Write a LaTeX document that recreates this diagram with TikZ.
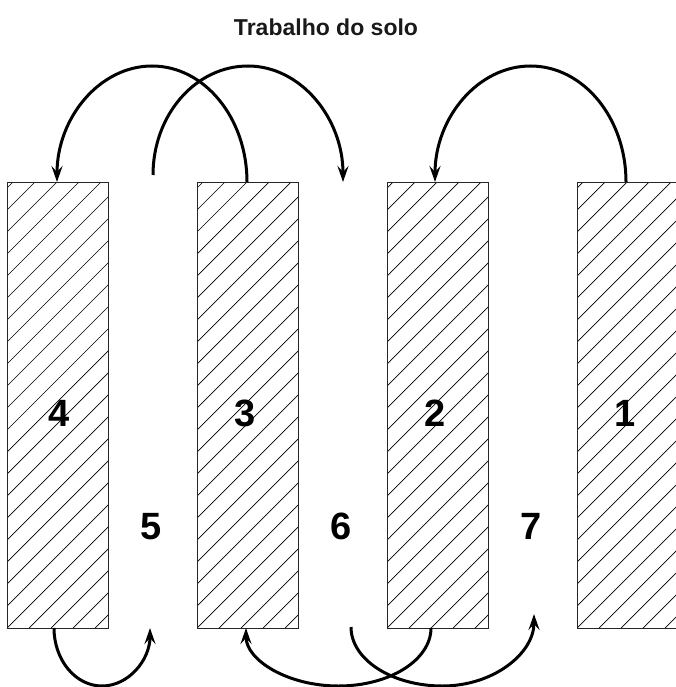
\documentclass[tikz,border=0pt]{standalone}
\usepackage{fontspec}
\setmainfont{Liberation Sans}
\usetikzlibrary{arrows.meta}
\begin{document}
\begin{tikzpicture}[x=1pt,y=-1pt,
  hatchline/.style={line width=0.7pt, black},
  wall/.style={draw=black!85, line width=1pt, minimum width=101pt, minimum height=446pt,
    inner sep=0pt, outer sep=0pt,
    path picture={
      \foreach \i in {-22,...,6} {
        \draw[hatchline] ([xshift=\i*22pt]path picture bounding box.south west) -- ++(470pt,470pt);
      }
    }},
  num/.style={font=\fontsize{38}{38}\selectfont\bfseries, anchor=base, inner sep=0pt},
  ttl/.style={font=\fontsize{23}{23}\selectfont\bfseries, anchor=base, inner sep=0pt, text=black!90},
  flow/.style={line width=3pt, -{Stealth[length=16pt,width=11pt,inset=6pt]}}
]
\useasboundingbox (0,0) rectangle (676,687);
\clip (0,0) rectangle (676,687);

\node[ttl] (title) at (326,36) {Trabalho do solo};

\node[wall] (r4) at (57.5,405) {};
\node[wall] (r3) at (247.5,405) {};
\node[wall] (r2) at (437.5,405) {};
\node[wall] (r1) at (627.5,405) {};

\node[num] (n4) at (59,426) {4};
\node[num] (n3) at (245,426) {3};
\node[num] (n2) at (435,426) {2};
\node[num] (n1) at (625,426) {1};
\node[num] (n5) at (151,539) {5};
\node[num] (n6) at (341,539) {6};
\node[num] (n7) at (531,539) {7};

% top arcs
\coordinate (a1) at (247,182);
\coordinate (b1) at (153,175);
\coordinate (c1) at (626,182);
\draw[flow] (a1) arc[start angle=0,end angle=-180,x radius=95,y radius=116];
\draw[flow] (b1) arc[start angle=180,end angle=270,x radius=95,y radius=109]
                 arc[start angle=270,end angle=360,x radius=95,y radius=116];
\draw[flow] (c1) arc[start angle=0,end angle=-180,x radius=95.5,y radius=116];

% bottom arcs
\coordinate (d1) at (54,628);
\coordinate (e1) at (431,628);
\coordinate (f1) at (351,627);
\draw[flow] (d1) arc[start angle=180,end angle=0,x radius=48,y radius=58];
\draw[flow] (e1) arc[start angle=0,end angle=180,x radius=92.5,y radius=58];
\draw[flow] (f1) arc[start angle=180,end angle=90,x radius=91.5,y radius=59]
                 arc[start angle=90,end angle=0,x radius=91.5,y radius=72];
\end{tikzpicture}
\end{document}
